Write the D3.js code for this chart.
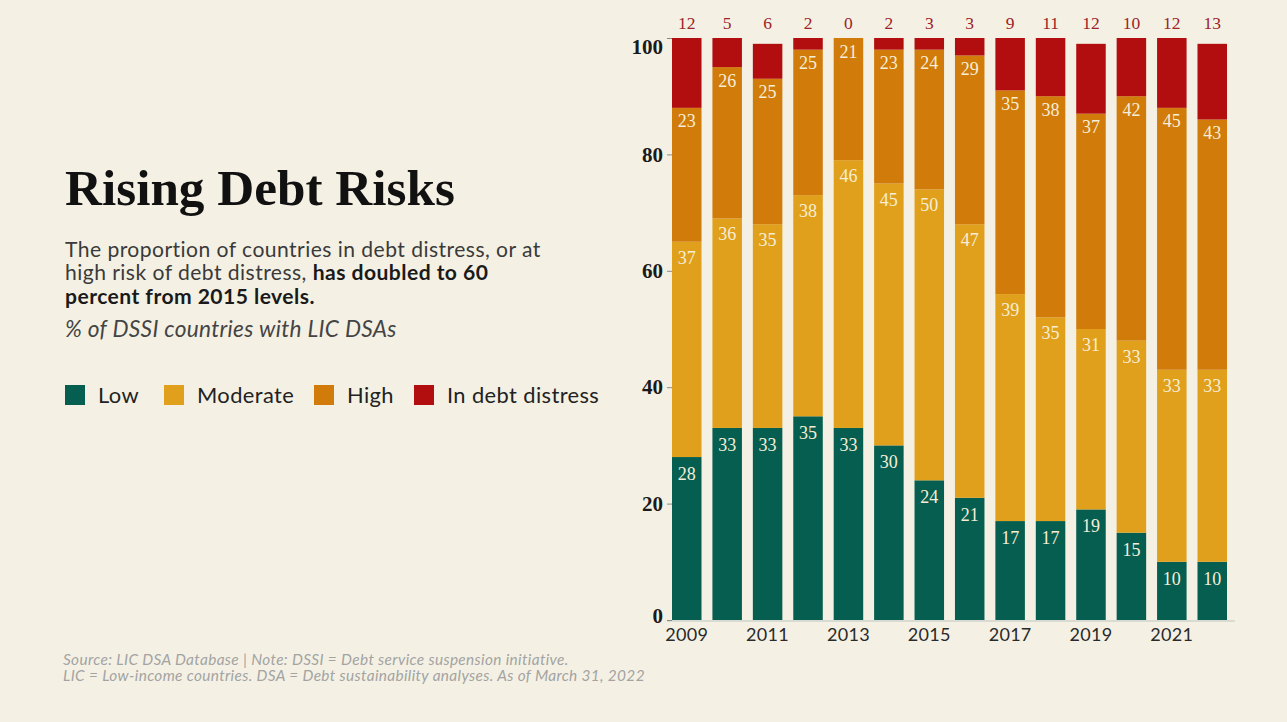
<!DOCTYPE html>
<html><head><meta charset="utf-8">
<script src="https://cdn.jsdelivr.net/npm/d3@7"></script>
<style>
html,body{margin:0;padding:0;background:#f4f1e4;}
svg{display:block;}
</style></head>
<body>
<svg id="chart" width="1287" height="722"></svg>
<script>
// ---- data ----
const years = [2009,2010,2011,2012,2013,2014,2015,2016,2017,2018,2019,2020,2021,2022];
const low      = [28,33,33,35,33,30,24,21,17,17,19,15,10,10];
const moderate = [37,36,35,38,46,45,50,47,39,35,31,33,33,33];
const high     = [23,26,25,25,21,23,24,29,35,38,37,42,45,43];
const distress = [12,5,6,2,0,2,3,3,9,11,12,10,12,13];
const seriesKeys = ["low","moderate","high","distress"];
const seriesNames = ["Low","Moderate","High","In debt distress"];
const seriesColors = ["#065e50","#e0a01b","#d07b0a","#b20d0f"];
const yTicks = [0,20,40,60,80,100];
const xTickYears = [2009,2011,2013,2015,2017,2019,2021];

const titleText = "Rising Debt Risks";
const subLine1 = "The proportion of countries in debt distress, or at";
const subLine2a = "high risk of debt distress, ";
const subLine2b = "has doubled to 60";
const subLine3 = "percent from 2015 levels.";
const unitText = "% of DSSI countries with LIC DSAs";
const source1 = "Source: LIC DSA Database | Note: DSSI = Debt service suspension initiative.";
const source2 = "LIC = Low-income countries.  DSA = Debt sustainability analyses. As of March 31, 2022";

// ---- setup ----
const svg = d3.select("#chart");
svg.append("rect").attr("width",1287).attr("height",722).attr("fill","#f4f1e4");

const SERIF = "'Liberation Serif', 'Times New Roman', serif";
const SANS = "Lato, 'Open Sans', sans-serif";

function fitWidth(sel, target){
  const w = sel.node().getComputedTextLength();
  const fs = parseFloat(sel.attr("font-size"));
  sel.attr("font-size", (fs*target/w).toFixed(2));
}

// ---- left text block ----
const title = svg.append("text").attr("x",65).attr("y",205)
  .attr("font-family",SERIF).attr("font-weight","bold").attr("font-size",46)
  .attr("fill","#111").text(titleText);
fitWidth(title, 390);

const l1 = svg.append("text").attr("x",65).attr("y",256.5)
  .attr("font-family",SANS).attr("font-size",18).attr("letter-spacing","0.45")
  .attr("fill","#3a3a3a").text(subLine1);
fitWidth(l1, 480);
const subFs = l1.attr("font-size");
const l2 = svg.append("text").attr("x",65).attr("y",280)
  .attr("font-family",SANS).attr("font-size",subFs).attr("letter-spacing","0.45").attr("fill","#3a3a3a");
l2.append("tspan").text(subLine2a);
l2.append("tspan").attr("font-weight","bold").attr("fill","#1a1a1a").text(subLine2b);
svg.append("text").attr("x",65).attr("y",303.5)
  .attr("font-family",SANS).attr("font-size",subFs).attr("letter-spacing","0.45")
  .attr("font-weight","bold").attr("fill","#1a1a1a").text(subLine3);

const unit = svg.append("text").attr("x",65).attr("y",337)
  .attr("font-family",SANS).attr("font-style","italic").attr("font-size",17).attr("letter-spacing","0.3")
  .attr("fill","#444").text(unitText);
fitWidth(unit, 335);

// legend
const legendX = [65,164,314,414];
const legend = svg.append("g");
const legendTexts = [];
seriesNames.forEach((n,i)=>{
  legend.append("rect").attr("x",legendX[i]).attr("y",385).attr("width",20).attr("height",20)
    .attr("fill",seriesColors[i]);
  legendTexts.push(legend.append("text").attr("x",legendX[i]+33).attr("y",402.5)
    .attr("font-family",SANS).attr("font-size",19.5).attr("letter-spacing","0.4").attr("fill","#222").text(n));
});
fitWidth(legendTexts[3], 153);
legendTexts.forEach(t=>t.attr("font-size",legendTexts[3].attr("font-size")));

// source
const s1 = svg.append("text").attr("x",63).attr("y",665)
  .attr("font-family",SANS).attr("font-style","italic").attr("font-size",13).attr("letter-spacing","0.35")
  .attr("fill","#a3a3a3").text(source1);
fitWidth(s1, 511);
svg.append("text").attr("x",63).attr("y",681)
  .attr("font-family",SANS).attr("font-style","italic").attr("font-size",s1.attr("font-size")).attr("letter-spacing","0.35")
  .attr("fill","#a3a3a3").text(source2);

// ---- chart ----
const x = d3.scaleBand().domain(years).range([672,1227]).paddingInner(0.27).paddingOuter(0);
const y = d3.scaleLinear().domain([0,100]).range([620,38]).clamp(true);

const table = years.map((yr,i)=>({year:yr, low:low[i], moderate:moderate[i], high:high[i], distress:distress[i]}));
const stacked = d3.stack().keys(seriesKeys)(table);

const barsG = svg.append("g");
stacked.forEach((s,si)=>{
  barsG.selectAll(null).data(s).join("rect")
    .attr("x",d=>x(d.data.year))
    .attr("width",x.bandwidth())
    .attr("y",d=>y(d[1]))
    .attr("height",d=>Math.max(0,y(d[0])-y(d[1])))
    .attr("fill",seriesColors[si]);
});

// value labels inside segments (low, moderate, high)
const labelOffset = [23, 22, 19.5];
stacked.slice(0,3).forEach((s,si)=>{
  barsG.selectAll(null).data(s).join("text")
    .attr("x",d=>x(d.data.year)+x.bandwidth()/2)
    .attr("y",d=>y(d[1])+labelOffset[si])
    .attr("text-anchor","middle")
    .attr("font-family",SERIF).attr("font-size",18)
    .attr("fill","#f6eed6")
    .text(d=>d.data[seriesKeys[si]]);
});

// distress labels above bars
barsG.selectAll(null).data(table).join("text")
  .attr("x",d=>x(d.year)+x.bandwidth()/2)
  .attr("y",29)
  .attr("text-anchor","middle")
  .attr("font-family",SERIF).attr("font-size",17.5)
  .attr("fill","#9e2228")
  .text(d=>d.distress);

// baseline
svg.append("line")
  .attr("x1",x.range()[0]-5).attr("x2",x.range()[1]+8)
  .attr("y1",y(0)+1).attr("y2",y(0)+1)
  .attr("stroke","#b9c6bf").attr("stroke-width",1.2);

// x axis
const xAxis = svg.append("g").attr("transform",`translate(0,${y(0)})`)
  .call(d3.axisBottom(x).tickValues(xTickYears).tickSize(0).tickPadding(8));
xAxis.select(".domain").remove();
xAxis.selectAll("text").attr("font-family",SANS).attr("font-size",18).attr("letter-spacing","0.3").attr("fill","#2a2a2a");

// y axis
const yAxis = svg.append("g").attr("transform",`translate(${x.range()[0]},0)`)
  .call(d3.axisLeft(y).tickValues(yTicks).tickSize(5).tickPadding(4));
yAxis.select(".domain").remove();
yAxis.selectAll("line").attr("stroke","#8a8a8a");
yAxis.selectAll("text").attr("font-family",SERIF).attr("font-weight","bold")
  .attr("font-size",21).attr("fill","#1a1a1a")
  .attr("dy",d=> d===100 ? "0.72em" : d===0 ? "0.1em" : "0.32em");
</script>
</body></html>
